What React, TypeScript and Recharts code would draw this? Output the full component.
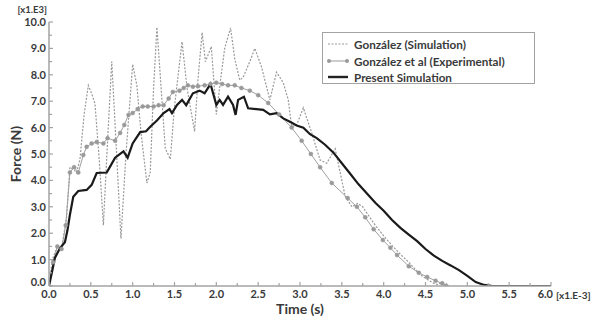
import React from 'react';
import { LineChart, Line, XAxis, YAxis, Legend, Label } from 'recharts';

// time in ms (x1.E-3 s), force in kN (x1.E3 N)
const simTime = [0, 0.04, 0.1, 0.15, 0.21, 0.25, 0.3, 0.33, 0.37, 0.42, 0.47, 0.52, 0.55, 0.6, 0.65, 0.7, 0.75, 0.8, 0.86, 0.92, 1.0, 1.05, 1.1, 1.17, 1.21, 1.25, 1.29, 1.34, 1.39, 1.43, 1.45, 1.5, 1.59, 1.65, 1.74, 1.78, 1.83, 1.87, 1.94, 2.0, 2.05, 2.1, 2.17, 2.22, 2.28, 2.32, 2.4, 2.46, 2.54, 2.64, 2.72, 2.8, 2.86, 2.9, 2.96, 3.04, 3.14, 3.24, 3.32, 3.42, 3.48, 3.54, 3.62, 3.69, 3.75, 3.8, 3.9, 4.0, 4.11, 4.2, 4.3, 4.4, 4.47, 4.6, 4.65, 4.69, 4.75];
const simForce = [0, 1.0, 1.5, 1.4, 2.6, 4.5, 4.4, 4.3, 4.8, 6.5, 7.6, 7.2, 6.9, 4.8, 2.3, 5.5, 8.5, 5.5, 1.8, 5.0, 8.4, 7.6, 5.8, 3.9, 4.3, 7.5, 9.8, 7.5, 5.2, 4.95, 4.8, 6.8, 9.25, 7.5, 5.85, 7.8, 9.6, 8.5, 9.07, 6.5, 7.8, 9.0, 9.78, 8.6, 7.8, 7.9, 8.5, 9.0, 8.3, 7.05, 8.1, 7.7, 7.05, 6.03, 6.1, 6.75, 5.8, 4.77, 4.65, 5.2, 4.3, 3.4, 3.0, 3.13, 3.0, 2.76, 2.3, 1.9, 1.5, 1.2, 0.9, 0.55, 0.35, 0.1, 0.05, 0.16, 0];

const expTime = [0, 0.05, 0.1, 0.15, 0.2, 0.25, 0.3, 0.35, 0.41, 0.45, 0.51, 0.57, 0.65, 0.7, 0.79, 0.85, 0.9, 0.95, 1.0, 1.06, 1.12, 1.18, 1.25, 1.31, 1.37, 1.43, 1.48, 1.56, 1.61, 1.66, 1.72, 1.78, 1.86, 1.93, 2.0, 2.07, 2.14, 2.22, 2.3, 2.4, 2.5, 2.62, 2.75, 2.9, 3.02, 3.13, 3.24, 3.38, 3.57, 3.68, 3.78, 3.88, 3.99, 4.08, 4.16, 4.3, 4.42, 4.52, 4.62, 4.7, 4.75];
const expForce = [0, 0.9, 1.5, 1.4, 2.3, 4.3, 4.5, 4.3, 4.96, 5.27, 5.4, 5.45, 5.4, 5.6, 5.5, 5.8, 6.1, 6.48, 6.55, 6.7, 6.8, 6.8, 6.8, 6.85, 6.85, 7.1, 7.35, 7.4, 7.5, 7.6, 7.55, 7.57, 7.6, 7.65, 7.7, 7.65, 7.6, 7.6, 7.5, 7.4, 7.23, 6.93, 6.5, 6.0, 5.5, 5.0, 4.5, 3.9, 3.33, 3.0, 2.6, 2.15, 1.74, 1.45, 1.17, 0.75, 0.5, 0.34, 0.2, 0.1, 0];

const presentTime = [0, 0.04, 0.07, 0.13, 0.19, 0.22, 0.25, 0.29, 0.35, 0.45, 0.51, 0.57, 0.69, 0.73, 0.79, 0.89, 0.94, 1.0, 1.09, 1.16, 1.21, 1.29, 1.37, 1.44, 1.47, 1.53, 1.59, 1.64, 1.72, 1.8, 1.86, 1.93, 2.0, 2.04, 2.08, 2.14, 2.2, 2.23, 2.26, 2.33, 2.38, 2.48, 2.56, 2.64, 2.72, 2.8, 2.88, 2.96, 3.04, 3.12, 3.2, 3.3, 3.4, 3.5, 3.6, 3.7, 3.8, 3.9, 4.0, 4.1, 4.2, 4.3, 4.4, 4.5, 4.6, 4.7, 4.8, 4.9, 5.0, 5.1, 5.2, 5.3, 6.0];
const presentForce = [0, 0.6, 1.06, 1.43, 1.66, 2.1, 2.7, 3.38, 3.6, 3.64, 3.83, 4.28, 4.3, 4.52, 4.86, 5.1, 4.86, 5.4, 5.83, 5.86, 6.03, 6.27, 6.55, 6.7, 6.55, 6.86, 7.05, 6.85, 7.3, 7.4, 7.3, 7.65, 6.86, 7.05, 6.86, 7.17, 6.86, 6.48, 7.05, 7.17, 6.73, 6.7, 6.67, 6.5, 6.55, 6.35, 6.22, 6.08, 6.0, 5.75, 5.6, 5.35, 5.05, 4.65, 4.25, 3.85, 3.5, 3.15, 2.85, 2.5, 2.2, 1.95, 1.7, 1.4, 1.15, 0.95, 0.78, 0.6, 0.38, 0.15, 0.04, 0, 0];

const xTicks = [0, 0.25, 0.5, 0.75, 1, 1.25, 1.5, 1.75, 2, 2.25, 2.5, 2.75, 3, 3.25, 3.5, 3.75, 4, 4.25, 4.5, 4.75, 5, 5.25, 5.5, 5.75, 6];
const yTicks = [0, 0.5, 1, 1.5, 2, 2.5, 3, 3.5, 4, 4.5, 5, 5.5, 6, 6.5, 7, 7.5, 8, 8.5, 9, 9.5, 10];

const legendItems = ['González (Simulation)', 'González et al (Experimental)', 'Present Simulation'];

const toPoints = (t: number[], f: number[]) => t.map((v, i) => ({ t: v, f: f[i] }));
const simData = toPoints(simTime, simForce);
const expData = toPoints(expTime, expForce);
const presentData = toPoints(presentTime, presentForce);

const FONT = 'Lato, "DejaVu Sans", sans-serif';
const FRAME = '#a3a3a3';
const TEXT = '#3a3a3a';
const isMajor = (v: number, step: number) => Math.abs(v / step - Math.round(v / step)) < 1e-6;

const BottomTick = (props: any) => {
  const { x, y, payload } = props;
  const v = payload.value;
  const major = isMajor(v, 0.5);
  const last = v === xTicks[xTicks.length - 1];
  const axisY = y - 4;
  return (
    <g>
      <line x1={x} x2={x} y1={axisY} y2={axisY - (major ? 4 : 3)} stroke={FRAME} strokeWidth={1.2} />
      {major && (
        <text x={last ? x + 2 : x} y={y} dy="0.71em" textAnchor={last ? 'end' : 'middle'} fontFamily={FONT} fontWeight={700} fontSize={11} fill={TEXT}>
          {v.toFixed(1)}
        </text>
      )}
    </g>
  );
};

const LeftTick = (props: any) => {
  const { x, y, payload } = props;
  const v = payload.value;
  const major = isMajor(v, 1);
  const axisX = x + 3;
  return (
    <g>
      <line x1={axisX} x2={axisX + (major ? 4 : 3)} y1={y} y2={y} stroke={FRAME} strokeWidth={1.2} />
      {major && (
        <text x={x} y={v === 0 ? y - 4 : y} dy="0.355em" textAnchor="end" fontFamily={FONT} fontWeight={700} fontSize={11} fill={TEXT}>
          {v.toFixed(1)}
        </text>
      )}
    </g>
  );
};

const TopTick = (props: any) => {
  const { x, y } = props;
  return <line x1={x} x2={x} y1={y} y2={y + 4} stroke={FRAME} strokeWidth={1.2} />;
};

const RightTick = (props: any) => {
  const { x, y } = props;
  return <line x1={x} x2={x - 4} y1={y} y2={y} stroke={FRAME} strokeWidth={1.2} />;
};

const LegendBox = () => (
  <div
    style={{
      width: 213,
      height: 52,
      border: `1px solid ${FRAME}`,
      background: '#fff',
      padding: '3px 0 0 4px',
      boxSizing: 'border-box',
      fontFamily: FONT,
      fontWeight: 700,
      fontSize: 11.7,
      color: TEXT,
    }}
  >
    {legendItems.map((name, i) => (
      <div key={name} style={{ display: 'flex', alignItems: 'center', height: 16.5 }}>
        <svg width={27} height={10} style={{ flexShrink: 0 }}>
          {i === 0 && <line x1={1} x2={21} y1={5} y2={5} stroke="#999" strokeWidth={1.2} strokeDasharray="2 1.5" />}
          {i === 1 && (
            <g>
              <line x1={1} x2={21} y1={5} y2={5} stroke="#999" strokeWidth={1} />
              <circle cx={2} cy={5} r={2} fill="#999" />
              <circle cx={20} cy={5} r={2} fill="#999" />
            </g>
          )}
          {i === 2 && <line x1={1} x2={21} y1={5} y2={5} stroke="#222" strokeWidth={2.4} />}
        </svg>
        <span>{name}</span>
      </div>
    ))}
  </div>
);

export default function App() {
  return (
    <div style={{ position: 'absolute', left: 0, top: 0, background: '#fff' }}>
      <LineChart width={602} height={320} margin={{ top: 22, right: 51, bottom: 0, left: 9 }}>
        <XAxis
          xAxisId={0}
          type="number"
          dataKey="t"
          domain={[0, 6]}
          ticks={xTicks}
          interval={0}
          height={34}
          tickSize={0}
          tickMargin={4}
          tickLine={false}
          tick={<BottomTick />}
          axisLine={{ stroke: FRAME, strokeWidth: 1.5 }}
          allowDataOverflow
        >
          <Label
            content={(p: any) => (
              <text x={p.viewBox.x + p.viewBox.width / 2} y={p.viewBox.y + 28} textAnchor="middle" fontFamily={FONT} fontWeight={700} fontSize={14} fill={TEXT}>
                Time (s)
              </text>
            )}
          />
          <Label
            content={(p: any) => (
              <text x={p.viewBox.x + p.viewBox.width + 5} y={p.viewBox.y + 13} textAnchor="start" fontFamily={FONT} fontWeight={700} fontSize={10} fill={TEXT}>
                [x1.E-3]
              </text>
            )}
          />
        </XAxis>
        <XAxis
          xAxisId="top"
          orientation="top"
          type="number"
          dataKey="t"
          domain={[0, 6]}
          ticks={xTicks}
          interval={0}
          height={0}
          tickSize={0}
          tickMargin={0}
          tickLine={false}
          tick={<TopTick />}
          axisLine={{ stroke: FRAME, strokeWidth: 1.5 }}
        />
        <YAxis
          yAxisId={0}
          type="number"
          domain={[0, 10]}
          ticks={yTicks}
          interval={0}
          width={40}
          tickSize={0}
          tickMargin={3}
          tickLine={false}
          tick={<LeftTick />}
          axisLine={{ stroke: FRAME, strokeWidth: 1.5 }}
          allowDataOverflow
        >
          <Label
            content={(p: any) => {
              const cx = 16;
              const cy = p.viewBox.y + p.viewBox.height / 2;
              return (
                <text x={cx} y={cy} transform={`rotate(-90, ${cx}, ${cy})`} dy="0.35em" textAnchor="middle" fontFamily={FONT} fontWeight={700} fontSize={14} fill={TEXT}>
                  Force (N)
                </text>
              );
            }}
          />
          <Label
            content={(p: any) => (
              <text x={p.viewBox.x + p.viewBox.width - 2} y={p.viewBox.y - 9} textAnchor="end" fontFamily={FONT} fontWeight={700} fontSize={9.5} fill={TEXT}>
                [x1.E3]
              </text>
            )}
          />
        </YAxis>
        <YAxis
          yAxisId="right"
          orientation="right"
          type="number"
          domain={[0, 10]}
          ticks={yTicks}
          interval={0}
          width={0}
          tickSize={0}
          tickMargin={0}
          tickLine={false}
          tick={<RightTick />}
          axisLine={{ stroke: FRAME, strokeWidth: 1.5 }}
        />
        <Legend
          layout="horizontal"
          verticalAlign="middle"
          align="center"
          content={<LegendBox />}
          wrapperStyle={{ position: 'absolute', top: 32, left: 322, width: 'auto' }}
        />
        <Line
          data={simData}
          dataKey="f"
          type="linear"
          stroke="#999"
          strokeWidth={1.2}
          strokeDasharray="2 1.5"
          dot={false}
          isAnimationActive={false}
        />
        <Line
          data={expData}
          dataKey="f"
          type="linear"
          stroke="#a0a0a0"
          strokeWidth={1}
          dot={{ r: 2, fill: '#999', stroke: '#999', strokeWidth: 0.5 }}
          isAnimationActive={false}
        />
        <Line
          data={presentData}
          dataKey="f"
          type="linear"
          stroke="#1a1a1a"
          strokeWidth={2.2}
          dot={false}
          isAnimationActive={false}
        />
      </LineChart>
    </div>
  );
}
